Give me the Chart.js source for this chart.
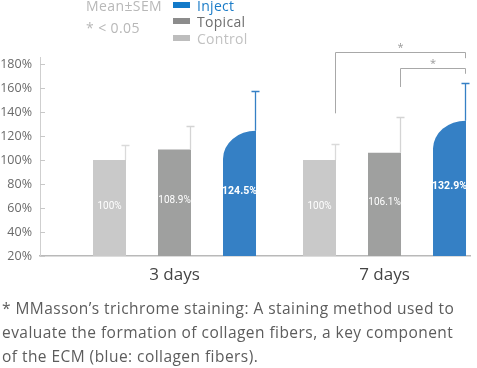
<!DOCTYPE html>
<html>
<head>
<meta charset="utf-8">
<script src="https://cdn.jsdelivr.net/npm/chart.js@4"></script>
<style>
  body { margin: 0; background: #fff; font-family: "Open Sans", sans-serif; }
  #wrap { position: relative; width: 477px; height: 368px; overflow: hidden; }
  #chart { position: absolute; left: 0; top: 0; }
  .note { position: absolute; left: 86px; font-size: 14px; line-height: 16px; color: #b8b8b8; letter-spacing: 0.4px; }
  .key { position: absolute; left: 173px; font-size: 14px; line-height: 16px; white-space: nowrap; letter-spacing: 0.3px; }
  .key i { display: inline-block; width: 17px; height: 6px; margin-right: 7px; vertical-align: 3px; }
  .foot { position: absolute; left: 2px; top: 296px; width: 475px; font-size: 15.5px; line-height: 24px; color: #5c5c5c; letter-spacing: 0.45px; white-space: nowrap; }
</style>
</head>
<body>
<div id="wrap">
  <canvas id="chart" width="477" height="368"></canvas>
  <div class="note" style="top:-2px">Mean±SEM</div>
  <div class="note" style="top:20px">* &lt; 0.05</div>
  <div class="key" style="top:-2px;color:#1b7cc8"><i style="background:#127ac9"></i>Inject</div>
  <div class="key" style="top:14px;color:#6e6e6e"><i style="background:#8c8c8c"></i>Topical</div>
  <div class="key" style="top:31px;color:#c2c2c2"><i style="background:#bdbdbd"></i>Control</div>
  <div class="foot">* MMasson’s trichrome staining: A staining method used to<br>evaluate the formation of collagen fibers, a key component<br>of the ECM (blue: collagen fibers).</div>
</div>
<script>
// data
const days = ["3 days", "7 days"];
const control = [100, 100];
const topical = [108.9, 106.1];
const inject = [124.5, 132.9];
const controlSem = [12.5, 13.6];
const topicalSem = [19.4, 29.7];
const injectSem = [33, 31];
const yTicks = [20, 40, 60, 80, 100, 120, 140, 160, 180];

// significance brackets (7 days): dataset index from/to, levels in y units
const brackets = [
  { day: 1, from: 0, to: 2, top: 190, leftEnd: 139, rightEnd: 185 },
  { day: 1, from: 1, to: 2, top: 177, leftEnd: 161, rightEnd: 172 },
];

const semList = [controlSem, topicalSem, injectSem];
const errColors = ["#dadada", "#d4d4d4", "#3580c5"];

const toPoints = (arr) => arr.map((v, i) => ({ x: i + 1, y: v }));

// draws the inject bar shape, error bars, value labels and brackets
const extras = {
  id: "extras",
  afterDatasetsDraw(chart) {
    const ctx = chart.ctx;
    const yS = chart.scales.y;
    const bottom = chart.chartArea.bottom;

    // inject bars: quarter-ellipse top
    chart.getDatasetMeta(2).data.forEach((bar) => {
      const l = bar.x - bar.width / 2;
      const r = bar.x + bar.width / 2;
      const ry = 28;
      ctx.save();
      ctx.fillStyle = "#3580c5";
      ctx.beginPath();
      ctx.moveTo(l, bottom);
      ctx.lineTo(l, bar.y + ry);
      ctx.ellipse(r, bar.y + ry, r - l, ry, 0, Math.PI, 1.5 * Math.PI);
      ctx.lineTo(r, bottom);
      ctx.closePath();
      ctx.fill();
      ctx.restore();
    });

    // error bars
    chart.data.datasets.forEach((ds, di) => {
      chart.getDatasetMeta(di).data.forEach((bar, j) => {
        const x = Math.round(bar.x + bar.width / 2) - 0.5;
        const yTop = Math.round(yS.getPixelForValue(ds.data[j].y + semList[di][j])) + 0.5;
        ctx.save();
        ctx.strokeStyle = errColors[di];
        ctx.lineWidth = 1.3;
        ctx.beginPath();
        ctx.moveTo(x, bar.y);
        ctx.lineTo(x, yTop);
        ctx.moveTo(x - 4, yTop);
        ctx.lineTo(x + 4, yTop);
        ctx.stroke();
        ctx.restore();
      });
    });

    // value labels
    chart.data.datasets.forEach((ds, di) => {
      chart.getDatasetMeta(di).data.forEach((bar, j) => {
        ctx.save();
        ctx.fillStyle = "#ffffff";
        ctx.font = di === 2 ? "bold 10.5px Roboto" : "10px Roboto";
        ctx.textAlign = "center";
        ctx.textBaseline = "middle";
        ctx.fillText(ds.data[j].y + "%", bar.x, (bar.y + bottom) / 2 - 2);
        ctx.restore();
      });
    });

    // brackets
    brackets.forEach((b) => {
      const a = chart.getDatasetMeta(b.from).data[b.day];
      const c = chart.getDatasetMeta(b.to).data[b.day];
      const x1 = Math.round(a.x + a.width / 2) - 0.5;
      const x2 = Math.round(c.x + c.width / 2) - 0.5;
      const yT = Math.round(yS.getPixelForValue(b.top)) + 0.5;
      ctx.save();
      ctx.strokeStyle = "#a8a8a8";
      ctx.lineWidth = 1;
      ctx.beginPath();
      ctx.moveTo(x1, yS.getPixelForValue(b.leftEnd));
      ctx.lineTo(x1, yT);
      ctx.lineTo(x2, yT);
      ctx.lineTo(x2, yS.getPixelForValue(b.rightEnd));
      ctx.stroke();
      ctx.fillStyle = "#9a9a9a";
      ctx.font = "11px 'Open Sans'";
      ctx.textAlign = "center";
      ctx.textBaseline = "middle";
      ctx.fillText("*", (x1 + x2) / 2, yT - 5);
      ctx.restore();
    });

    // inward y tick marks
    ctx.save();
    ctx.strokeStyle = "#c8c8c8";
    ctx.lineWidth = 1;
    ctx.beginPath();
    yTicks.forEach((t) => {
      const y = Math.round(yS.getPixelForValue(t)) + 0.5;
      ctx.moveTo(chart.chartArea.left, y);
      ctx.lineTo(chart.chartArea.left + 5, y);
    });
    ctx.stroke();
    ctx.restore();
  },
};

new Chart("chart", {
  type: "bar",
  data: {
    datasets: [
      { label: "Control", data: toPoints(control), backgroundColor: "#c9c9c9" },
      { label: "Topical", data: toPoints(topical), backgroundColor: "#9fa09f" },
      { label: "Inject", data: toPoints(inject), backgroundColor: "rgba(0,0,0,0)" },
    ],
  },
  plugins: [extras],
  options: {
    responsive: false,
    animation: false,
    devicePixelRatio: 1,
    categoryPercentage: 0.9286,
    barPercentage: 0.5077,
    layout: { padding: { top: 57, right: 7, left: 0, bottom: 0 } },
    plugins: { legend: { display: false }, tooltip: { enabled: false } },
    scales: {
      x: {
        type: "linear",
        offset: false,
        min: 0.3595,
        max: 2.4071,
        afterFit: (s) => { s.height = 112; },
        afterBuildTicks: (s) => { s.ticks = days.map((d, i) => ({ value: i + 1 })); },
        grid: { display: false, drawTicks: false, tickLength: 0 },
        border: { display: true, color: "#b9b9b9", width: 1.5 },
        ticks: {
          padding: 9,
          color: "#444",
          font: { family: "Open Sans", size: 17 },
          callback: (v) => days[v - 1],
        },
      },
      y: {
        min: 20,
        max: 186,
        afterFit: (s) => { s.width = 40; },
        afterBuildTicks: (s) => { s.ticks = yTicks.map((v) => ({ value: v })); },
        grid: { display: false, drawTicks: false, tickLength: 0 },
        border: { display: true, color: "#cfcfcf", width: 1 },
        ticks: {
          padding: 8,
          color: "#6a6a6a",
          font: { family: "Open Sans", size: 12.5 },
          callback: (v) => v + "%",
        },
      },
    },
  },
});
</script>
</body>
</html>
